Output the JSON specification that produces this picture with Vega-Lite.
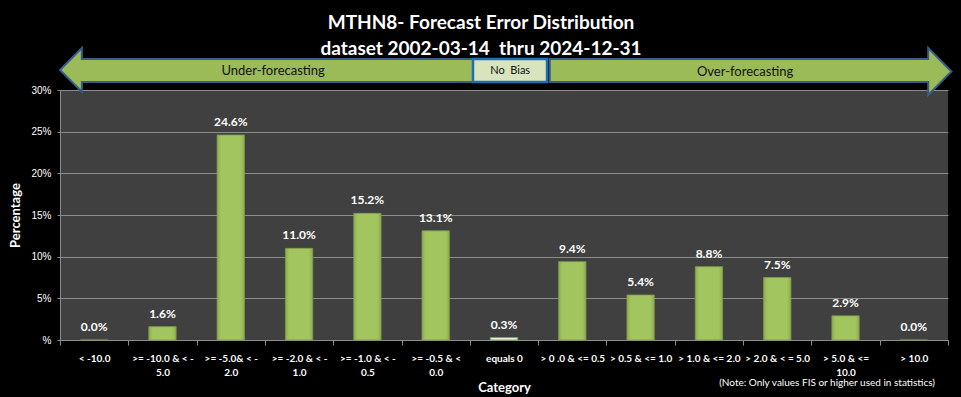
{
  "$schema": "https://vega.github.io/schema/vega-lite/v6.json",
  "width": 888,
  "height": 250,
  "autosize": {"type": "none"},
  "padding": {"left": 60, "top": 90, "right": 13, "bottom": 57},
  "background": "black",
  "config": {"view": {"fill": "#404040", "stroke": null}, "font": "Lato"},
  "title": {
    "text": ["MTHN8- Forecast Error Distribution", "dataset 2002-03-14 \u00a0thru 2024-12-31"],
    "color": "white", "fontSize": 19, "fontWeight": "bold", "font": "Lato",
    "anchor": "middle", "frame": "group", "dx": -23, "offset": -15, "lineHeight": 26
  },
  "datasets": {
    "bars": [
      {"category": "< -10.0", "pct": 0.0},
      {"category": ">= -10.0 & < -5.0", "pct": 0.016},
      {"category": ">= -5.0& < -2.0", "pct": 0.246},
      {"category": ">= -2.0 & < -1.0", "pct": 0.110},
      {"category": ">= -1.0 & < -0.5", "pct": 0.152},
      {"category": ">= -0.5 & < 0.0", "pct": 0.131},
      {"category": "equals 0", "pct": 0.003},
      {"category": "> 0 .0 & <= 0.5", "pct": 0.094},
      {"category": "> 0.5 & <= 1.0", "pct": 0.054},
      {"category": "> 1.0 & <= 2.0", "pct": 0.088},
      {"category": "> 2.0 & < = 5.0", "pct": 0.075},
      {"category": "> 5.0 & <= 10.0", "pct": 0.029},
      {"category": "> 10.0", "pct": 0.0}
    ],
    "arrows": [
      {"arrow": "L", "x": 0, "y": 108, "y2": 108},
      {"arrow": "L", "x": 0.32, "y": 116.8, "y2": 99.3},
      {"arrow": "L", "x": 0.3201, "y": 112.4, "y2": 103.2},
      {"arrow": "L", "x": 6.1, "y": 112.4, "y2": 103.2},
      {"arrow": "R", "x": 7.17, "y": 112.4, "y2": 103.2},
      {"arrow": "R", "x": 12.7099, "y": 112.4, "y2": 103.2},
      {"arrow": "R", "x": 12.71, "y": 116.8, "y2": 98},
      {"arrow": "R", "x": 13.05, "y": 107.4, "y2": 107.4}
    ],
    "nobias": [
      {"x": 6.046, "x2": 7.13, "y": 112.4, "y2": 103.2}
    ],
    "arrowText": [
      {"label": "Under-forecasting", "x": 3.12, "y": 107.7, "size": "big"},
      {"label": "Over-forecasting", "x": 10.03, "y": 107.3, "size": "big"},
      {"label": "No \u00a0Bias", "x": 6.59, "y": 107.8, "size": "small"}
    ],
    "note": [
      {"label": "(Note: Only values FIS or higher used in statistics)", "x": 12.81, "y": -17.2}
    ]
  },
  "layer": [
    {
      "data": {"name": "bars"},
      "encoding": {
        "x": {
          "field": "category", "type": "nominal", "sort": null,
          "scale": {"paddingInner": 0, "paddingOuter": 0},
          "title": "Category",
          "axis": {
            "labelAngle": 0,
            "labelExpr": "datum.value == '>= -10.0 & < -5.0' ? ['>= -10.0 & < -', '5.0'] : datum.value == '>= -5.0& < -2.0' ? ['>= -5.0& < -', '2.0'] : datum.value == '>= -2.0 & < -1.0' ? ['>= -2.0 & < -', '1.0'] : datum.value == '>= -1.0 & < -0.5' ? ['>= -1.0 & < -', '0.5'] : datum.value == '>= -0.5 & < 0.0' ? ['>= -0.5 & <', '0.0'] : datum.value == '> 5.0 & <= 10.0' ? ['> 5.0 & <=', '10.0'] : datum.value",
            "labelColor": "white", "labelFont": "Lato", "labelFontWeight": "bold", "labelFontSize": 10,
            "labelLineHeight": 14, "labelPadding": 8, "labelLimit": 100,
            "tickBand": "extent", "tickColor": "#8c8c8c", "tickSize": 5,
            "domainColor": "#8c8c8c", "grid": false,
            "titleColor": "white", "titleFont": "Lato", "titleFontSize": 13, "titleFontWeight": "bold", "titlePadding": 4
          }
        },
        "y": {
          "field": "pct", "type": "quantitative",
          "scale": {"domain": [0, 0.3], "nice": false},
          "title": "Percentage",
          "axis": {
            "values": [0, 0.05, 0.1, 0.15, 0.2, 0.25, 0.3],
            "labelExpr": "datum.value == 0 ? '%' : format(datum.value, '.0%')",
            "labelColor": "white", "labelFont": "Liberation Sans", "labelFontSize": 10, "labelPadding": 6,
            "tickColor": "#8c8c8c", "tickSize": 3, "domainColor": "#8c8c8c",
            "gridColor": "#8c8c8c", "gridWidth": 1,
            "titleColor": "white", "titleFont": "Lato", "titleFontSize": 13, "titleFontWeight": "bold", "titlePadding": 8
          }
        }
      },
      "layer": [
        {
          "mark": {"type": "bar", "width": {"band": 0.4}, "stroke": "#7f9c48", "strokeWidth": 0.8},
          "encoding": {
            "color": {
              "condition": {"test": "datum.category === 'equals 0'", "value": "#e6eed6"},
              "value": {"gradient": "linear", "x1": 0, "x2": 1, "y1": 0, "y2": 0,
                "stops": [{"offset": 0, "color": "#8fae50"}, {"offset": 0.15, "color": "#a3c55f"}, {"offset": 0.85, "color": "#a3c55f"}, {"offset": 1, "color": "#8fae50"}]}
            }
          }
        },
        {
          "mark": {"type": "text", "baseline": "bottom", "dy": -6, "color": "white", "fontWeight": "bold", "fontSize": 12, "font": "Lato"},
          "encoding": {"text": {"field": "pct", "type": "quantitative", "format": ".1%"}}
        }
      ]
    },
    {
      "layer": [
        {
          "data": {"name": "arrows"},
          "mark": {"type": "area", "fill": "#9bbb59", "stroke": "#385d8a", "strokeWidth": 2, "fillOpacity": 1},
          "encoding": {
            "x": {"field": "x", "type": "quantitative", "scale": {"domain": [0, 13], "nice": false, "zero": false}, "axis": null},
            "y": {"field": "y", "type": "quantitative", "scale": {"domain": [0, 100], "nice": false, "zero": false}, "axis": null, "stack": null},
            "y2": {"field": "y2"},
            "detail": {"field": "arrow"}
          }
        },
        {
          "data": {"name": "nobias"},
          "mark": {"type": "rect", "fill": "#d7e4bd", "stroke": "#1f6fb5", "strokeWidth": 2.5},
          "encoding": {
            "x": {"field": "x", "type": "quantitative", "axis": null},
            "x2": {"field": "x2"},
            "y": {"field": "y", "type": "quantitative", "axis": null},
            "y2": {"field": "y2"}
          }
        },
        {
          "data": {"name": "arrowText"},
          "mark": {"type": "text", "color": "#111111", "font": "Lato", "baseline": "middle"},
          "encoding": {
            "x": {"field": "x", "type": "quantitative", "axis": null},
            "y": {"field": "y", "type": "quantitative", "axis": null},
            "text": {"field": "label"},
            "size": {"field": "size", "type": "nominal", "scale": {"domain": ["big", "small"], "range": [13, 11]}, "legend": null}
          }
        },
        {
          "data": {"name": "note"},
          "mark": {"type": "text", "color": "white", "font": "Lato", "fontSize": 10, "align": "right", "baseline": "middle"},
          "encoding": {
            "x": {"field": "x", "type": "quantitative", "axis": null},
            "y": {"field": "y", "type": "quantitative", "axis": null},
            "text": {"field": "label"}
          }
        }
      ]
    }
  ],
  "resolve": {"scale": {"x": "independent", "y": "independent", "color": "independent", "size": "independent"}}
}
